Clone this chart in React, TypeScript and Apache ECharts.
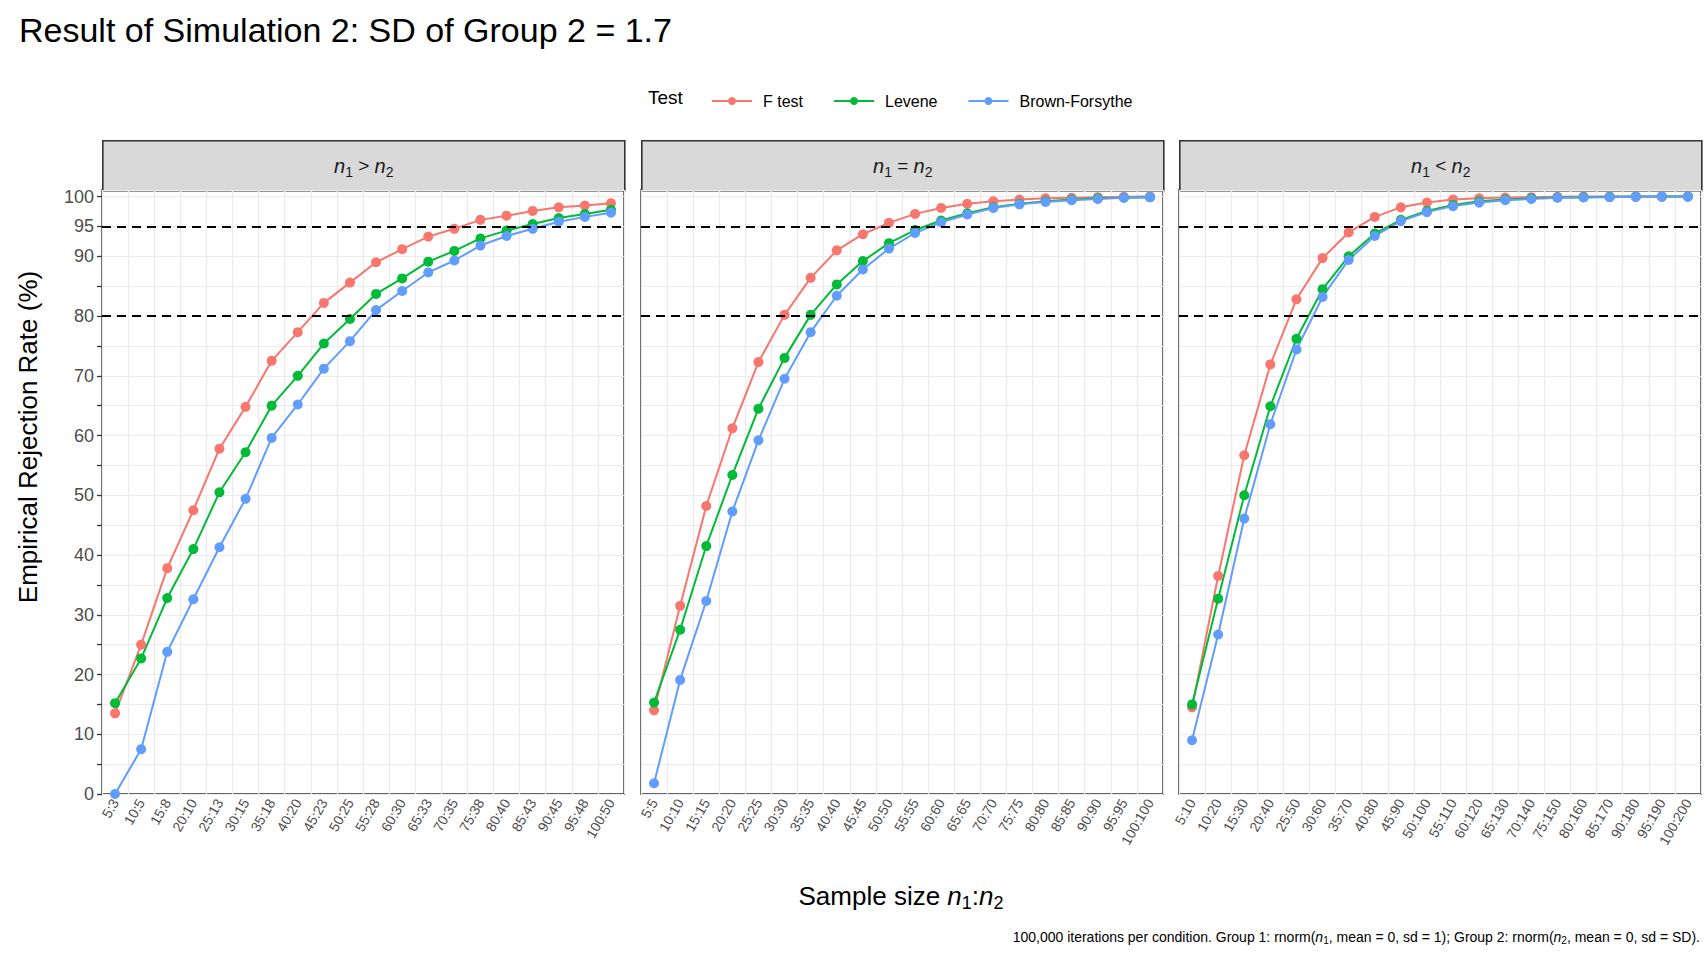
import { useEffect, useRef } from 'react'
import * as echarts from 'echarts'

const panelOps = ['>', '=', '<']

const n1 = [5, 10, 15, 20, 25, 30, 35, 40, 45, 50, 55, 60, 65, 70, 75, 80, 85, 90, 95, 100]
const catsGreater = ['5:3', '10:5', '15:8', '20:10', '25:13', '30:15', '35:18', '40:20', '45:23', '50:25', '55:28', '60:30', '65:33', '70:35', '75:38', '80:40', '85:43', '90:45', '95:48', '100:50']
const catsEqual = n1.map((v) => `${v}:${v}`)
const catsLess = ['5:10', '10:20', '15:30', '20:40', '25:50', '30:60', '35:70', '40:80', '45:90', '50:100', '55:110', '60:120', '65:130', '70:140', '75:150', '80:160', '85:170', '90:180', '95:190', '100:200']

const fGreater = [13.5, 25, 37.8, 47.5, 57.8, 64.8, 72.5, 77.3, 82.2, 85.6, 89, 91.2, 93.3, 94.6, 96.1, 96.8, 97.6, 98.2, 98.5, 98.9]
const levGreater = [15.2, 22.7, 32.8, 41, 50.5, 57.2, 65, 70, 75.4, 79.5, 83.7, 86.3, 89.1, 90.9, 93, 94.3, 95.4, 96.4, 97.1, 97.8]
const bfGreater = [0, 7.5, 23.8, 32.6, 41.3, 49.4, 59.6, 65.2, 71.2, 75.8, 81, 84.2, 87.3, 89.3, 91.8, 93.4, 94.6, 95.8, 96.6, 97.3]

const fEqual = [14, 31.5, 48.2, 61.2, 72.3, 80.2, 86.4, 91, 93.7, 95.6, 97.1, 98.1, 98.8, 99.2, 99.5, 99.7, 99.8, 99.9, 99.95, 100]
const levEqual = [15.3, 27.5, 41.5, 53.4, 64.5, 73, 80.2, 85.3, 89.2, 92.2, 94.4, 96, 97.2, 98.2, 98.8, 99.2, 99.5, 99.7, 99.8, 99.9]
const bfEqual = [1.8, 19.1, 32.3, 47.3, 59.2, 69.5, 77.3, 83.4, 87.8, 91.3, 93.9, 95.7, 97, 98.1, 98.7, 99.1, 99.4, 99.6, 99.8, 99.9]

const fLess = [14.5, 36.5, 56.7, 71.9, 82.8, 89.7, 94, 96.6, 98.2, 99, 99.5, 99.7, 99.85, 99.9, 99.95, 100, 100, 100, 100, 100]
const levLess = [15, 32.7, 50, 64.9, 76.2, 84.5, 90, 93.8, 96.1, 97.6, 98.6, 99.2, 99.5, 99.7, 99.85, 99.9, 99.95, 100, 100, 100]
const bfLess = [9, 26.7, 46.1, 61.9, 74.4, 83.2, 89.4, 93.4, 95.9, 97.4, 98.4, 99, 99.4, 99.6, 99.8, 99.85, 99.9, 99.95, 100, 100]

const testNames = ['F test', 'Levene', 'Brown-Forsythe']
const testColors = ['#F8766D', '#00BA38', '#619CFF']
const refLines = [80, 95]

export default function App() {
  const ref = useRef<HTMLDivElement | null>(null)

  useEffect(() => {
    if (!ref.current) return
    const chart = echarts.init(ref.current, null, { renderer: 'svg' })

    const panels = [
      { cats: catsGreater, data: [fGreater, levGreater, bfGreater] },
      { cats: catsEqual, data: [fEqual, levEqual, bfEqual] },
      { cats: catsLess, data: [fLess, levLess, bfLess] }
    ]
    const lefts = [102, 641, 1179]
    const width = 522
    const top = 190
    const bottom = 166
    const font = 'Liberation Sans'

    const grids = lefts.map((l) => ({
      left: l, width, top, bottom, show: true, borderColor: '#333', borderWidth: 1.6, backgroundColor: '#fff'
    }))

    const xAxes = panels.map((p, i) => ({
      type: 'category', gridIndex: i, data: p.cats, boundaryGap: true,
      axisLine: { show: false },
      axisTick: { alignWithLabel: true, length: 5, lineStyle: { color: '#333', width: 1.3 } },
      axisLabel: { rotate: 60, interval: 0, fontSize: 14, color: '#4d4d4d', fontFamily: font, margin: 6 },
      splitLine: { show: true, lineStyle: { color: '#ebebeb', width: 1.3 } }
    }))

    const yAxes = panels.map((_, i) => ({
      type: 'value', gridIndex: i, min: 0, max: 101.1, interval: 5,
      axisLine: { show: false },
      axisTick: { show: i === 0, length: 5, lineStyle: { color: '#333', width: 1.3 } },
      axisLabel: {
        show: i === 0, fontSize: 18, color: '#4d4d4d', fontFamily: font,
        showMaxLabel: false,
        formatter: (v: number) => (v % 10 === 0 || v === 95 ? String(v) : '')
      },
      splitLine: { show: true, lineStyle: { color: '#ebebeb', width: 1.1 } }
    }))

    const series: any[] = []
    panels.forEach((p, i) => {
      p.data.forEach((d, k) => {
        series.push({
          type: 'line', name: testNames[k], xAxisIndex: i, yAxisIndex: i, data: d,
          symbol: 'circle', symbolSize: 10, color: testColors[k],
          lineStyle: { width: 2 }, z: 3,
          markLine: k === 0 ? {
            silent: true, symbol: 'none', label: { show: false },
            lineStyle: { color: '#000', type: [9, 6], width: 2.2 },
            data: refLines.map((y) => ({ yAxis: y }))
          } : undefined
        })
      })
    })

    const stripGraphics: any[] = panels.map((_, i) => ({
      type: 'group', left: lefts[i], top: 140,
      children: [
        { type: 'rect', shape: { x: 0, y: 0, width, height: 50 }, style: { fill: '#d9d9d9', stroke: '#333', lineWidth: 1.6 } },
        {
          type: 'text', x: width / 2, y: 25,
          style: {
            text: `{i|n}{s|1}{o| ${panelOps[i]} }{i|n}{s|2}`,
            align: 'center', verticalAlign: 'middle',
            rich: {
              i: { fontSize: 20, fontStyle: 'italic', fill: '#1a1a1a', fontFamily: font },
              s: { fontSize: 14, fill: '#1a1a1a', fontFamily: font, padding: [12, 0, 0, 0] },
              o: { fontSize: 19, fill: '#1a1a1a', fontFamily: font }
            }
          }
        }
      ]
    }))

    chart.setOption({
      animation: false,
      backgroundColor: '#fff',
      title: {
        text: 'Result of Simulation 2: SD of Group 2 = 1.7', left: 14, top: 8,
        textStyle: { fontSize: 34, fontWeight: 'normal', color: '#000', fontFamily: font }
      },
      legend: {
        top: 88, left: 706, itemGap: 30, itemWidth: 40, itemHeight: 10,
        data: testNames,
        textStyle: { fontSize: 16, color: '#000', fontFamily: font, padding: [0, 0, 0, 6] }
      },
      grid: grids,
      xAxis: xAxes,
      yAxis: yAxes,
      series,
      graphic: [
        ...stripGraphics,
        { type: 'text', left: 648, top: 88, style: { text: 'Test', fontSize: 19, fill: '#000', fontFamily: font } },
        {
          type: 'text', x: 28, y: 437, rotation: Math.PI / 2,
          style: { text: 'Empirical Rejection Rate (%)', fontSize: 26, fill: '#000', fontFamily: font, align: 'center', verticalAlign: 'middle' }
        },
        {
          type: 'text', x: 901, y: 896,
          style: {
            text: '{t|Sample size }{i|n}{s|1}{t|:}{i|n}{s|2}', align: 'center', verticalAlign: 'middle',
            rich: {
              t: { fontSize: 26, fill: '#000', fontFamily: font },
              i: { fontSize: 26, fontStyle: 'italic', fill: '#000', fontFamily: font },
              s: { fontSize: 18, fill: '#000', fontFamily: font, padding: [14, 0, 0, 0] }
            }
          }
        },
        {
          type: 'text', right: 8, top: 930,
          style: {
            text: '{t|100,000 iterations per condition. Group 1: rnorm(}{i|n}{s|1}{t|, mean = 0, sd = 1); Group 2: rnorm(}{i|n}{s|2}{t|, mean = 0, sd = SD).}',
            rich: {
              t: { fontSize: 14, fill: '#000', fontFamily: font },
              i: { fontSize: 14, fontStyle: 'italic', fill: '#000', fontFamily: font },
              s: { fontSize: 10, fill: '#000', fontFamily: font, padding: [6, 0, 0, 0] }
            }
          }
        }
      ]
    })

    return () => chart.dispose()
  }, [])

  return <div ref={ref} style={{ position: 'fixed', left: 0, top: 0, width: 1708, height: 960 }} />
}
